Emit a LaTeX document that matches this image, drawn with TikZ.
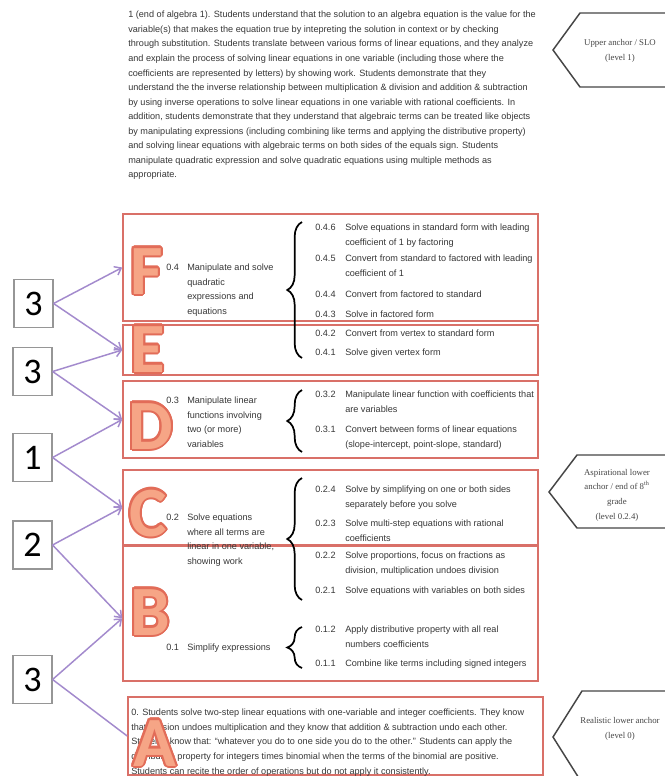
\documentclass[tikz,border=0pt]{standalone}
\usepackage{fontspec}
\setmainfont{Liberation Sans}
\newfontfamily\carlito{Carlito}
\newfontfamily\anchorfont{Liberation Serif}
\usepackage{contour}
\contourlength{1.6pt}
\usetikzlibrary{arrows.meta,decorations.pathreplacing,fit}

\definecolor{boxred}{RGB}{217,112,104}
\definecolor{letterfill}{RGB}{246,165,134}
\definecolor{letterline}{RGB}{226,108,88}
\definecolor{linkpurple}{RGB}{163,138,205}
\definecolor{numgray}{RGB}{150,150,150}
\definecolor{bodytext}{RGB}{55,55,55}
\definecolor{anchorgray}{RGB}{70,70,70}

% one numbered sub-goal: number and description side by side
\newcommand\goalrow[4]{%
  \node[body] (#1-num) at (315,#2) {#3};
  \node[body] (#1-txt) at (345,#2) {#4};}

\begin{document}
\begin{tikzpicture}[x=0.75pt,y=-0.75pt,
  body/.style={font=\fontsize{6.85}{10.9}\selectfont, text=bodytext,
    inner sep=0pt, align=left, anchor=north west},
  levelbox/.style={draw=boxred, line width=1.2pt, inner sep=0pt},
  numbox/.style={draw=numgray, line width=1.1pt, fill=white,
    minimum width=29pt, minimum height=36pt, inner sep=0pt,
    font=\carlito\fontsize{27}{27}\selectfont},
  letter/.style={anchor=base west, inner sep=0pt,
    font=\carlito\bfseries\fontsize{53}{53}\selectfont},
  link/.style={draw=linkpurple, line width=1.1pt},
  linkhead/.style={link, -{Straight Barb[length=4.5pt,width=7pt]}},
  bracepath/.style={decorate, line width=1.3pt,
    decoration={brace, amplitude=11pt}},
  anchorshape/.style={draw=anchorgray, line width=1.1pt},
  anchorlabel/.style={font=\anchorfont\fontsize{6.6}{11}\selectfont,
    text=anchorgray, align=center, inner sep=0pt}]

\useasboundingbox (0,0) rectangle (665,776);
\clip (0,0) rectangle (665,776);
\fill[white] (0,0) rectangle (665,776);

% ---------- level 1 description ----------
\node[body] (topdesc) at (128,11) {1 (end of algebra 1). Students understand that the solution to an algebra equation is the value for the\\
variable(s) that makes the equation true by intepreting the solution in context or by checking\\
through substitution. Students translate between various forms of linear equations, and they analyze\\
and explain the process of solving linear equations in one variable (including those where the\\
coefficients are represented by letters) by showing work. Students demonstrate that they\\
understand the the inverse relationship between multiplication \& division and addition \& subtraction\\
by using inverse operations to solve linear equations in one variable with rational coefficients. In\\
addition, students demonstrate that they understand that algebraic terms can be treated like objects\\
by manipulating expressions (including combining like terms and applying the distributive property)\\
and solving linear equations with algebraic terms on both sides of the equals sign. Students\\
manipulate quadratic expression and solve quadratic equations using multiple methods as\\
appropriate.};

% ---------- anchor tags on the right ----------
\draw[anchorshape] (665,13) -- (580,13) -- (553,50) -- (580,87) -- (665,87);
\node[anchorlabel] (upper) at (620,51) {Upper anchor / SLO\\(level 1)};
\draw[anchorshape] (665,455) -- (577,455) -- (549,492) -- (577,528) -- (665,528);
\node[anchorlabel] (aspire) at (617,495) {Aspirational lower\\anchor / end of 8\textsuperscript{th}\\grade\\(level 0.2.4)};
\draw[anchorshape] (665,691) -- (582,691) -- (553,737) -- (582,783) -- (665,783);
\node[anchorlabel] (realistic) at (620,729) {Realistic lower anchor\\(level 0)};

% ---------- level boxes ----------
\node[levelbox, fit={(123,214) (538,321)}] (boxF) {};
\node[levelbox, fit={(123,325) (538,375)}] (boxE) {};
\node[levelbox, fit={(123,381) (538,458)}] (boxD) {};
\node[levelbox, fit={(123,470) (538,545)}] (boxC) {};
\node[levelbox, fit={(123,545) (538,681)}] (boxB) {};
\node[levelbox, fit={(128,697) (543,775)}] (boxA) {};
\draw[boxred, line width=2.4pt] (boxC.south west) -- (boxC.south east);

% ---------- level 0.4 ----------
\node[body] (g04) at (166,264) {0.4};
\node[body] (g04t) at (187,264) {Manipulate and solve\\quadratic\\expressions and\\equations};
\draw[bracepath] (302,358) -- (302,222);
\goalrow{g046}{224}{0.4.6}{Solve equations in standard form with leading\\coefficient of 1 by factoring}
\goalrow{g045}{255}{0.4.5}{Convert from standard to factored with leading\\coefficient of 1}
\goalrow{g044}{291}{0.4.4}{Convert from factored to standard}
\goalrow{g043}{311}{0.4.3}{Solve in factored form}
\goalrow{g042}{330}{0.4.2}{Convert from vertex to standard form}
\goalrow{g041}{349}{0.4.1}{Solve given vertex form}

% ---------- level 0.3 ----------
\node[body] (g03) at (166,397) {0.3};
\node[body] (g03t) at (187,397) {Manipulate linear\\functions involving\\two (or more)\\variables};
\draw[bracepath] (302,452) -- (302,390);
\goalrow{g032}{391}{0.3.2}{Manipulate linear function with coefficients that\\are variables}
\goalrow{g031}{426}{0.3.1}{Convert between forms of linear equations\\(slope-intercept, point-slope, standard)}

% ---------- level 0.2 ----------
\node[body] (g02) at (166,514) {0.2};
\node[body] (g02t) at (187,514) {Solve equations\\where all terms are\\linear in one variable,\\showing work};
\draw[bracepath] (302,600) -- (302,478);
\goalrow{g024}{486}{0.2.4}{Solve by simplifying on one or both sides\\separately before you solve}
\goalrow{g023}{520}{0.2.3}{Solve multi-step equations with rational\\coefficients}
\goalrow{g022}{552}{0.2.2}{Solve proportions, focus on fractions as\\division, multiplication undoes division}
\goalrow{g021}{587}{0.2.1}{Solve equations with variables on both sides}

% ---------- level 0.1 ----------
\node[body] (g01) at (166,644) {0.1};
\node[body] (g01t) at (187,644) {Simplify expressions};
\draw[bracepath] (302,668) -- (302,627);
\goalrow{g012}{626}{0.1.2}{Apply distributive property with all real\\numbers coefficients}
\goalrow{g011}{660}{0.1.1}{Combine like terms including signed integers}

% ---------- level 0 ----------
\node[body] (level0) at (131,709) {0. Students solve two-step linear equations with one-variable and integer coefficients. They know\\
that division undoes multiplication and they know that addition \& subtraction undo each other.\\
Students know that: “whatever you do to one side you do to the other.” Students can apply the\\
distributive property for integers times binomial when the terms of the binomial are positive.\\
Students can recite the order of operations but do not apply it consistently.};

% ---------- level letters ----------
\node[letter] (letF) at (130,294) {\color{letterfill}\contour{letterline}{F}};
\node[letter] (letE) at (130,372) {\color{letterfill}\contour{letterline}{E}};
\node[letter] (letD) at (128,449) {\color{letterfill}\contour{letterline}{D}};
\node[letter] (letC) at (129,536) {\color{letterfill}\contour{letterline}{C}};
\node[letter] (letB) at (130,635) {\color{letterfill}\contour{letterline}{B}};
\node[letter] (letA) at (133,766) {\color{letterfill}\contour{letterline}{A}};

% ---------- step counts ----------
\node[numbox] (n1) at (33.5,303.5) {3};
\node[numbox] (n2) at (32.5,371.5) {3};
\node[numbox] (n3) at (32.5,457.5) {1};
\node[numbox] (n4) at (32.5,545) {2};
\node[numbox] (n5) at (32.5,679.5) {3};

\draw[linkhead] (n1.east) -- (boxF.west);
\draw[linkhead] (n1.east) -- (boxE.west);
\draw[linkhead] (n2.east) -- (boxE.west);
\draw[linkhead] (n2.east) -- (boxD.west);
\draw[linkhead] (n3.east) -- (boxD.west);
\draw[linkhead] (n3.east) -- (boxC.west);
\draw[linkhead] (n4.east) -- (boxC.west);
\draw[linkhead] (n4.east) -- ([yshift=-4]boxB.west);
\draw[linkhead] (n5.east) -- ([yshift=-4]boxB.west);
\draw[link] (n5.east) -- (boxA.west);
\end{tikzpicture}
\end{document}
